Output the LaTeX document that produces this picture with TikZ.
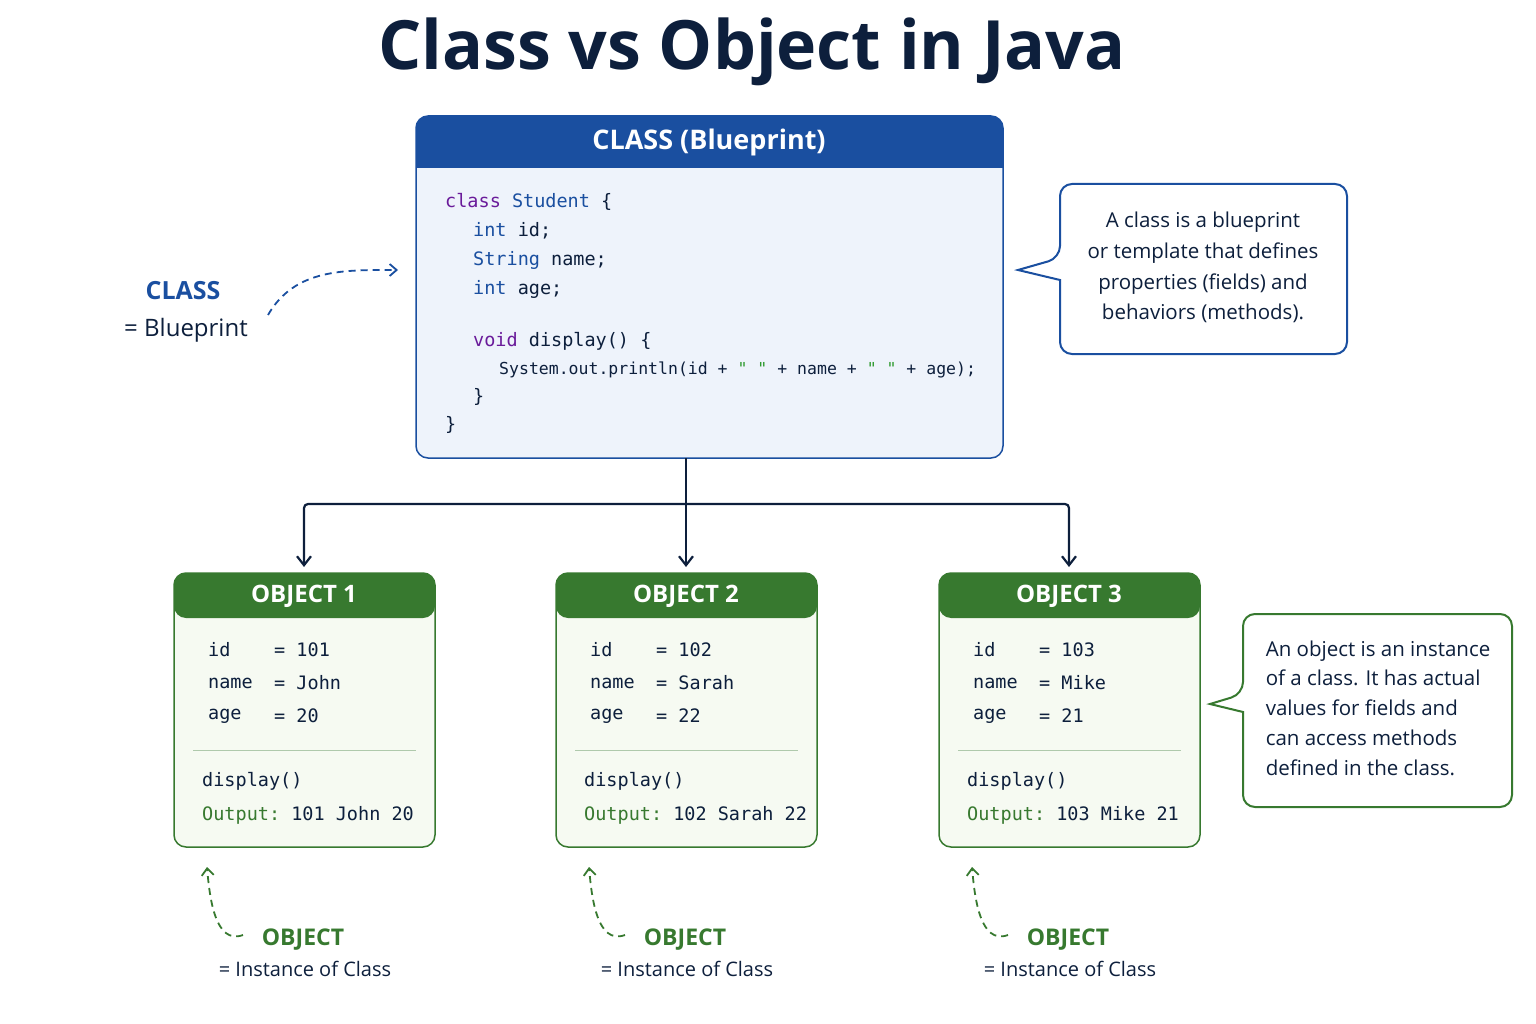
\documentclass[tikz,border=0pt]{standalone}
\usepackage{fontspec}
\setmainfont{Open Sans}
\setmonofont{DejaVu Sans Mono}
\usetikzlibrary{arrows.meta,positioning}
\definecolor{clsblue}{HTML}{1A4FA0}
\definecolor{clsfill}{HTML}{EEF3FB}
\definecolor{objgreen}{HTML}{37792F}
\definecolor{objfill}{HTML}{F6FAF2}
\definecolor{navy}{HTML}{0D1F3C}
\definecolor{kwpurple}{HTML}{6A1B9A}
\definecolor{strgreen}{HTML}{2E9A2E}
\newcommand{\sz}[1]{\fontsize{#1}{#1}\selectfont}
\tikzset{
  code/.style={anchor=west, font=\ttfamily\sz{18.5}, text=navy, inner sep=0pt},
  link/.style={navy, line width=2.2pt, -{Straight Barb[length=9pt,width=14pt]}},
  hint/.style={dash pattern=on 7pt off 5pt, line width=1.8pt, -{Straight Barb[length=7pt,width=12pt]}},
  note/.style={line width=2pt, rounded corners=12pt, fill=white},
}
\begin{document}
\begin{tikzpicture}[x=1pt,y=-1pt]
    \useasboundingbox (0,0) rectangle (1536,1024);
    \node (title) at (752,52) {\bfseries\sz{68}\color{navy}Class vs Object in Java};
    % class box
    \draw[clsblue, line width=1.5pt, fill=clsfill, rounded corners=12pt] (416,116) rectangle (1003,458);
    \fill[clsblue, rounded corners=12pt] (416,168) -- (416,116) -- (1003,116) -- (1003,168) -- cycle;
    \fill[clsblue] (416,150) rectangle (1003,168);
    \node[text=white, font=\bfseries\sz{27}] (clshead) at (709,142) {CLASS (Blueprint)};
    \coordinate (clsbot) at (686,458);
    \node[code] (c1) at (445,202) {{\color{kwpurple}class} {\color{clsblue}Student} \{};
    \node[code] (c2) at (473,231) {{\color{clsblue}int} id;};
    \node[code] (c3) at (473,260) {{\color{clsblue}String} name;};
    \node[code] (c4) at (473,289) {{\color{clsblue}int} age;};
    \node[code] (c5) at (473,341) {{\color{kwpurple}void} display() \{};
    \node[code, font=\ttfamily\sz{16.5}] (c6) at (499,370) {System.out.println(id + {\color{strgreen}" "} + name + {\color{strgreen}" "} + age);};
    \node[code] (c7) at (473,397) {\}};
    \node[code] (c8) at (445,425) {\}};
    % class note
    \draw[note, draw=clsblue] (1060,280) -- (1060,354) -- (1347,354) -- (1347,184) -- (1060,184) -- (1060,258) [sharp corners] -- (1018,270) -- cycle;
    \node[align=center, font=\sz{20.5}, text=navy] (clsnote) at (1203,269)
      {\strut A class is a blueprint\\[8pt]\strut or template that defines\\[8pt]\strut properties (fields) and\\[8pt]\strut behaviors (methods).};
    % class label
    \node[font=\bfseries\sz{25}, text=clsblue] (clslbl) at (183,291) {CLASS};
    \node[font=\sz{24}, text=navy] (clsdef) at (186,330) {= Blueprint};
    \coordinate (clsarr) at (398,270);
    \draw[hint, clsblue] (268,315) to[out=60, in=180] (clsarr);
    % connectors
    \coordinate (bus) at (686,504);
    \draw[navy, line width=2.2pt] (clsbot) -- (bus);
    \foreach \i/\x/\name/\age in {1/174/John/20, 2/556/Sarah/22, 3/939/Mike/21} {
      \pgfmathtruncatemacro{\cx}{\x+130}
      \pgfmathtruncatemacro{\id}{100+\i}
      \draw[objgreen, line width=1.5pt, fill=objfill, rounded corners=12pt] (\x,573) rectangle (\x+261,847);
      \fill[objgreen, rounded corners=12pt] (\x,618) -- (\x,573) -- (\x+261,573) -- (\x+261,618) -- cycle;
      \node[text=white, font=\bfseries\sz{24}] (obj\i) at (\cx,596) {OBJECT \i};
      \coordinate (top\i) at (\cx,567);
      \draw[link, rounded corners=4pt] (bus) -| (top\i);
      \node[code] (f\i a) at (\x+34,650) {id};
      \node[code] (f\i b) at (\x+34,683) {name};
      \node[code] (f\i c) at (\x+34,716) {age};
      \node[code] (v\i a) at (\x+100,650) {= \id};
      \node[code] (v\i b) at (\x+100,683) {= \name};
      \node[code] (v\i c) at (\x+100,716) {= \age};
      \draw[objgreen!40, line width=1pt] (\x+19,750) -- (\x+242,750);
      \node[code] (m\i) at (\x+28,781) {display()};
      \node[code] (o\i) at (\x+28,815) {{\color{objgreen}Output:} \id{} \name{} \age};
      \node[font=\bfseries\sz{23}, text=objgreen] (ol\i) at (\x+129,940) {OBJECT};
      \node[font=\sz{20}, text=navy] (od\i) at (\x+131,969) {= Instance of Class};
      \coordinate (up\i) at (\x+33,867);
      \draw[hint, objgreen] (\x+69,935) to[out=200, in=-85] (up\i);
    }
    % object note
    \draw[note, draw=objgreen] (1243,712) -- (1243,807) -- (1512,807) -- (1512,614) -- (1243,614) -- (1243,694) [sharp corners] -- (1210,704) -- cycle;
    \node[align=left, font=\sz{20.5}, text=navy] (objnote) at (1378,711)
      {\strut An object is an instance\\[7pt]\strut of a class. It has actual\\[7pt]\strut values for fields and\\[7pt]\strut can access methods\\[7pt]\strut defined in the class.};
\end{tikzpicture}
\end{document}
